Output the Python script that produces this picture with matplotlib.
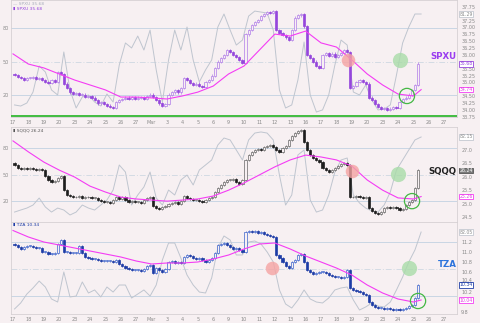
import numpy as np
import matplotlib
matplotlib.use("Agg")
import matplotlib.pyplot as plt
import matplotlib.transforms as mtrans

# ---------------- data ----------------
date_labels = ["17", "18", "19", "20", "23", "24", "25", "26", "27", "Mar", "3", "4", "5", "6",
               "9", "10", "11", "12", "13", "16", "17", "18", "19", "20", "23", "24", "25", "26", "27"]

spxu_open0 = 35.31
spxu_close = [35.27, 35.20, 35.16, 35.09, 35.16,
              35.16, 35.20, 35.13, 35.16, 35.09,
              35.02, 34.98, 35.09, 35.02, 35.38,
              35.31, 34.95, 34.80, 34.65, 34.58,
              34.62, 34.55, 34.55, 34.47, 34.51,
              34.44, 34.36, 34.25, 34.29, 34.22,
              34.15, 34.11, 34.07, 34.29, 34.36,
              34.40, 34.44, 34.40, 34.47, 34.40,
              34.44, 34.47, 34.40, 34.51, 34.55,
              34.47, 34.36, 34.25, 34.15, 34.22,
              34.55, 34.65, 34.73, 34.65, 34.80,
              35.16, 35.09, 34.98, 34.91, 34.95,
              34.87, 34.84, 35.02, 35.09, 35.24,
              35.53, 35.75, 35.89, 36.00, 36.18,
              36.11, 36.00, 35.93, 35.82, 35.71,
              36.76, 36.91, 37.09, 37.20, 37.27,
              37.42, 37.49, 37.56, 37.53, 37.60,
              36.91, 36.80, 36.73, 36.65, 36.55,
              36.91, 37.35, 37.45, 37.49, 37.05,
              36.00, 35.89, 35.75, 35.60, 35.53,
              36.00, 36.07, 35.96, 36.04, 35.93,
              36.00, 36.07, 36.18, 36.11, 34.80,
              34.87, 35.02, 35.09, 35.02, 34.95,
              34.44, 34.36, 34.22, 34.11, 34.04,
              34.07, 34.00, 34.04, 34.11, 34.07,
              34.29, 34.40, 34.44, 34.55, 34.73,
              34.91, 35.68]
spxu_ma = [36.04, 35.67, 35.53, 35.31, 35.09, 34.91, 34.73, 34.47, 34.47, 34.44, 34.40, 34.51,
           34.65, 34.87, 35.31, 35.60, 36.18, 36.76, 36.69, 36.87, 36.44, 36.29, 35.82, 35.31,
           34.91, 34.58, 34.51, 34.74]
spxu_osc = [6.6, 5.7, 8.2, 17.2, 38.6, 33.7, 18.9, 14.8, 50.1, 18.9, 4.1, 13.1, 14.8, 9.0, 5.7,
            15.6, 9.0, 39.4, 57.5, 53.4, 63.2, 51.7, 68.1, 35.3, 9.0, 43.5, 68.1, 51.7, 70.6,
            43.5, 25.5, 35.3, 43.5, 70.6, 81.3, 68.1, 55.8, 59.9, 79.6, 83.7, 82.9, 82.1, 68.1,
            18.9, 4.1, 6.6, 27.1, 58.3, 14.8, 0.8, 2.5, 14.8, 39.4, 59.9, 55.8, 17.2, 14.8, 23.0,
            10.7, 2.5, 3.3, 6.6, 31.2, 57.5, 70.6, 81.3, 81.29]

sqqq_open0 = 26.51
sqqq_close = [26.44, 26.33, 26.29, 26.33, 26.29,
              26.33, 26.29, 26.25, 26.29, 26.25,
              26.03, 25.88, 25.80, 25.84, 25.95,
              26.03, 25.50, 25.32, 25.28, 25.24,
              25.24, 25.28, 25.21, 25.24, 25.24,
              25.21, 25.21, 25.13, 25.09, 25.06,
              25.06, 25.02, 25.13, 25.24, 25.17,
              25.24, 25.13, 25.06, 25.09, 25.06,
              25.06, 25.02, 25.13, 25.21, 25.24,
              24.91, 24.83, 24.79, 24.87, 24.91,
              24.98, 25.02, 25.06, 24.98, 25.09,
              25.28, 25.21, 25.17, 25.13, 25.13,
              25.09, 25.06, 25.13, 25.21, 25.24,
              25.43, 25.58, 25.69, 25.80, 25.88,
              25.88, 25.92, 25.80, 25.73, 25.88,
              26.63, 26.81, 26.93, 27.00, 27.04,
              27.00, 27.11, 27.15, 27.19, 27.11,
              27.00, 26.93, 27.08, 27.15, 27.37,
              27.52, 27.64, 27.71, 27.75, 27.30,
              27.00, 26.81, 26.70, 26.63, 26.55,
              26.33, 26.25, 26.18, 26.25, 26.33,
              26.40, 26.48, 26.51, 26.44, 25.24,
              25.24, 25.28, 25.24, 25.21, 25.24,
              24.83, 24.72, 24.65, 24.61, 24.68,
              24.83, 24.87, 24.83, 24.87, 24.83,
              24.76, 24.79, 24.94, 25.06, 25.13,
              25.58, 26.24]
sqqq_ma = [27.34, 26.93, 26.55, 26.25, 25.99, 25.65, 25.43, 25.24, 25.17, 25.13, 25.09, 25.13,
           25.17, 25.28, 25.50, 25.77, 26.07, 26.37, 26.63, 26.81, 26.74, 26.63, 26.40, 25.88,
           25.50, 25.21, 25.17, 25.26]
sqqq_osc = [5.1, 7.2, 9.2, 12.3, 19.5, 10.3, 5.1, 9.2, 7.2, 2.1, 5.1, 12.3, 9.2, 7.2, 12.3, 17.5,
            27.7, 53.4, 46.2, 12.3, 22.6, 30.8, 46.2, 19.5, 12.3, 27.7, 22.6, 38.0, 43.1, 32.9,
            48.3, 53.4, 58.5, 73.9, 81.1, 79.1, 68.8, 58.5, 79.1, 86.2, 87.3, 86.2, 79.1, 43.1,
            12.3, 22.6, 63.7, 68.8, 17.5, 5.1, 7.2, 22.6, 46.2, 58.5, 60.6, 22.6, 14.4, 9.2, 6.2,
            5.1, 12.3, 25.7, 48.3, 58.5, 68.8, 79.1, 82.15]

tza_open0 = 11.16
tza_close = [11.14, 11.10, 11.06, 11.10, 11.12,
             11.12, 11.10, 11.08, 11.08, 11.00,
             11.00, 10.96, 10.96, 10.98, 11.16,
             11.24, 11.00, 11.00, 10.98, 10.98,
             10.98, 11.12, 10.98, 10.90, 10.88,
             10.86, 10.86, 10.84, 10.82, 10.82,
             10.82, 10.82, 10.80, 10.84, 10.76,
             10.72, 10.68, 10.66, 10.64, 10.64,
             10.64, 10.62, 10.66, 10.72, 10.74,
             10.58, 10.68, 10.64, 10.60, 10.66,
             10.80, 10.82, 10.78, 10.80, 10.78,
             10.90, 10.94, 10.92, 10.88, 10.86,
             10.88, 10.84, 10.80, 10.84, 10.88,
             10.98, 11.14, 11.16, 11.18, 11.14,
             11.10, 11.06, 11.08, 11.04, 11.00,
             11.40, 11.42, 11.40, 11.42, 11.38,
             11.40, 11.36, 11.34, 11.32, 11.30,
             10.94, 10.88, 10.80, 10.72, 10.68,
             10.80, 10.84, 10.94, 10.96, 10.80,
             10.64, 10.60, 10.56, 10.58, 10.60,
             10.60, 10.58, 10.54, 10.52, 10.50,
             10.50, 10.48, 10.50, 10.64, 10.28,
             10.24, 10.22, 10.20, 10.16, 10.14,
             10.00, 9.94, 9.90, 9.88, 9.88,
             9.86, 9.88, 9.86, 9.84, 9.86,
             9.84, 9.86, 9.88, 9.92, 9.94,
             10.08, 10.34]
tza_ma = [11.43, 11.30, 11.20, 11.14, 11.08, 11.02, 10.96, 10.90, 10.82, 10.76, 10.78, 10.78,
          10.80, 10.86, 10.94, 11.06, 11.16, 11.18, 11.06, 10.92, 10.80, 10.68, 10.54, 10.34,
          10.18, 10.06, 10.00, 10.04]
tza_osc = [1.1, 7.4, 16.8, 23.2, 30.5, 24.2, 11.6, 8.4, 40.0, 13.7, 14.7, 29.5, 17.9, 21.1, 13.7,
           24.2, 18.9, 26.3, 26.3, 12.6, 16.8, 21.1, 14.7, 26.3, 52.6, 70.5, 70.5, 54.7, 36.8,
           26.3, 18.9, 17.9, 33.7, 65.3, 77.9, 73.7, 57.9, 57.9, 71.6, 72.6, 69.5, 61.1, 50.5,
           21.1, 6.3, 2.1, 10.5, 21.1, 11.6, 8.4, 7.4, 12.6, 21.1, 23.2, 24.2, 10.5, 0.0, 3.2,
           7.4, 4.2, 3.2, 8.4, 21.1, 34.7, 50.5, 63.2, 82.05]

# signal markers (day position, price)
spxu_marks = {"red": (21.75, 35.82), "green": (25.13, 35.82), "ring": (25.58, 34.51)}
sqqq_marks = {"red": (22.01, 26.21), "green": (25.00, 26.10), "ring": (25.91, 25.09)}
tza_marks = {"red": (16.82, 10.68), "green": (25.71, 10.68), "ring": (26.30, 10.02)}

# ---------------- style ----------------
BG = "#f7f0f2"
W, H = 480, 323
fig = plt.figure(figsize=(W / 100, H / 100), dpi=100)
fig.patch.set_facecolor(BG)

XL = (-0.13, 28.83)
GRAY_TXT = "#8a8a8a"
FS = 3.5
FSB = 3.3


def rect(top, bottom, left=11, right=457):
    return [left / W, 1 - bottom / H, (right - left) / W, (bottom - top) / H]


def draw_panel(r, ylim, ticks, fmt, osc_lim, grid_lim, open0, closes, ma, osc, marks,
               up_edge, dn_face, name, name_color, legend, price_box, ma_box, osc_box,
               price_box_style, left_labels, show_dates, green_bottom=False, nudge=None):
    axL = fig.add_axes(r)
    axL.set_facecolor(BG)
    axL.set_xlim(*XL)
    axL.set_ylim(*grid_lim)
    for v, ls, c in [(20, "-", "#c9d6e4"), (80, "-", "#c9d6e4"), (50, (0, (6, 2, 1, 2)), "#d3dbe4")]:
        axL.axhline(v, color=c, lw=0.7, ls=ls, zorder=0)
    axL.set_yticks([20, 50, 80])
    if left_labels:
        axL.set_yticklabels(["20", "50", "80"])
    else:
        axL.set_yticklabels([])
    axL.tick_params(axis="y", length=0, pad=1.5, labelsize=FS, labelcolor=GRAY_TXT)
    axL.set_xticks(range(len(date_labels)))
    if show_dates:
        axL.set_xticklabels(date_labels)
    else:
        axL.set_xticklabels([])
    axL.tick_params(axis="x", length=0, pad=2, labelsize=FS, labelcolor=GRAY_TXT)
    for s in axL.spines.values():
        s.set_color("#d6d0d3")
        s.set_linewidth(0.6)

    axG = fig.add_axes(r)
    axG.set_facecolor("none")
    axG.set_xlim(*XL)
    axG.set_ylim(*osc_lim)
    tg = 0.1 + 0.4 * np.arange(len(osc))
    axG.plot(tg, osc, color="#bfc5cf", lw=0.7)
    axG.axis("off")

    ax = fig.add_axes(r)
    ax.set_facecolor("none")
    ax.set_xlim(*XL)
    ax.set_ylim(*ylim)
    for s in ax.spines.values():
        s.set_visible(False)
    ax.set_xticks([])
    ax.yaxis.tick_right()
    ax.set_yticks(ticks)
    ax.set_yticklabels([fmt % t for t in ticks])
    ax.tick_params(axis="y", length=0, pad=3, labelsize=FS, labelcolor=GRAY_TXT)
    if nudge:
        for tk, lab in zip(ticks, ax.get_yticklabels()):
            if tk in nudge:
                off = mtrans.ScaledTranslation(0, nudge[tk] / 100, fig.dpi_scale_trans)
                lab.set_transform(lab.get_transform() + off)

    closes = np.asarray(closes)
    opens = np.r_[open0, closes[:-1]]
    t = 0.1 + 0.2 * np.arange(len(closes))
    span = ylim[1] - ylim[0]
    wick = span * 0.012
    minh = span * 0.006
    lo = np.minimum(opens, closes)
    hi = np.maximum(opens, closes)
    hgt = np.maximum(hi - lo, minh)
    up = closes >= opens
    ax.vlines(t, lo - wick, hi + wick, color=np.where(up, up_edge, dn_face), lw=0.5, zorder=3)
    ax.bar(t[up], hgt[up], bottom=lo[up], width=0.14, color=BG, edgecolor=up_edge, lw=0.5, zorder=4)
    ax.bar(t[~up], hgt[~up], bottom=lo[~up], width=0.14, color=dn_face, edgecolor=dn_face, lw=0.5, zorder=4)

    tm = list(range(len(ma) - 1)) + [len(ma) - 1.5]
    ax.plot(tm, ma, color="#f43cf4", lw=0.8, zorder=5)

    ax.scatter(*marks["red"], s=95, color="#f5a3a3", alpha=0.8, lw=0, zorder=6)
    ax.scatter(*marks["green"], s=120, color="#a9dca9", alpha=0.8, lw=0, zorder=6)
    ax.scatter(*marks["ring"], s=120, facecolor="none", edgecolor="#45b845", lw=0.9, zorder=6)

    if green_bottom:
        ax.axhline(ylim[0] + span * 0.006, color="#33b833", lw=1.3, zorder=7)

    tr = mtrans.blended_transform_factory(ax.transAxes, ax.transData)
    trG = mtrans.blended_transform_factory(ax.transAxes, axG.transData)
    ax.text(0.999, name[1], name[0], transform=tr, ha="right", va="center", fontsize=6.2,
            fontweight="bold", color=name_color, zorder=8)
    box_x = 1.006
    bpad = "square,pad=0.06"
    ax.text(box_x, osc[-1], osc_box, transform=trG, ha="left", va="center", fontsize=FSB,
            color=GRAY_TXT, zorder=9, clip_on=False,
            bbox=dict(boxstyle=bpad, fc="white", ec="#b8bec8", lw=0.5))
    fc, ec, tc = price_box_style
    ax.text(box_x, closes[-1], price_box, transform=tr, ha="left", va="center", fontsize=FSB,
            color=tc, zorder=9, clip_on=False,
            bbox=dict(boxstyle=bpad, fc=fc, ec=ec, lw=0.6))
    ax.text(box_x, ma[-1], ma_box, transform=tr, ha="left", va="center", fontsize=FSB,
            color="#e040e0", zorder=9, clip_on=False,
            bbox=dict(boxstyle=bpad, fc="white", ec="#f43cf4", lw=0.6))

    y0 = 0.985
    for i, (txt, col) in enumerate(legend):
        ax.text(0.004, y0 - i * 0.045, txt, transform=ax.transAxes, ha="left", va="top",
                fontsize=3.2, color=col, zorder=9)
    return ax


# Panel 1: SPXU
draw_panel(rect(0, 117), (33.745, 38.0),
           [33.75, 34.00, 34.25, 34.50, 35.00, 35.25, 35.50, 36.00, 36.25, 36.50, 36.75, 37.00, 37.25, 37.75],
           "%.2f", (-3.3, 92.8), (0.3, 105.1), spxu_open0, spxu_close, spxu_ma, spxu_osc, spxu_marks,
           "#b07ce8", "#9546dc", ("SPXU", 35.93), "#9a3cf0",
           [("\u2014 SPXU %.2f" % spxu_close[-1], "#a9b0bc"), ("\u25AE SPXU %.2f" % spxu_close[-1], "#9546dc")],
           "%.2f" % spxu_close[-1], "%.2f" % spxu_ma[-1], "%.2f" % spxu_osc[-1],
           ("white", "#9546dc", "#9546dc"), True, True, green_bottom=True)

# Panel 2: SQQQ
draw_panel(rect(127, 222), (24.31, 27.86),
           [24.5, 25.0, 25.5, 26.0, 26.5, 27.0],
           "%.1f", (-5.1, 92.4), (-3.8, 103.8), sqqq_open0, sqqq_close, sqqq_ma, sqqq_osc, sqqq_marks,
           "#666666", "#1e1e1e", ("SQQQ", 26.18), "#222222",
           [("\u25AE SQQQ %.2f" % sqqq_close[-1], "#555555")],
           "%.2f" % sqqq_close[-1], "%.2f" % sqqq_ma[-1], "%.2f" % sqqq_osc[-1],
           ("#7a7a7a", "#555555", "white"), True, False)

# Panel 3: TZA
draw_panel(rect(222, 314), (9.76, 11.60),
           [9.8, 10.2, 10.4, 10.6, 10.8, 11.0, 11.2],
           "%.1f", (-4.2, 92.6), (0.0, 102.2), tza_open0, tza_close, tza_ma, tza_osc, tza_marks,
           "#3a62cc", "#1d3ca6", ("TZA", 10.74), "#2c74dc",
           [("\u25AE TZA %.2f" % tza_close[-1], "#1d3ca6")],
           "%.2f" % tza_close[-1], "%.2f" % tza_ma[-1], "%.2f" % tza_osc[-1],
           ("white", "#1d3ca6", "#1d3ca6"), False, True, nudge={10.4: 2.0})

fig.savefig("out.png", dpi=100, facecolor=BG)
